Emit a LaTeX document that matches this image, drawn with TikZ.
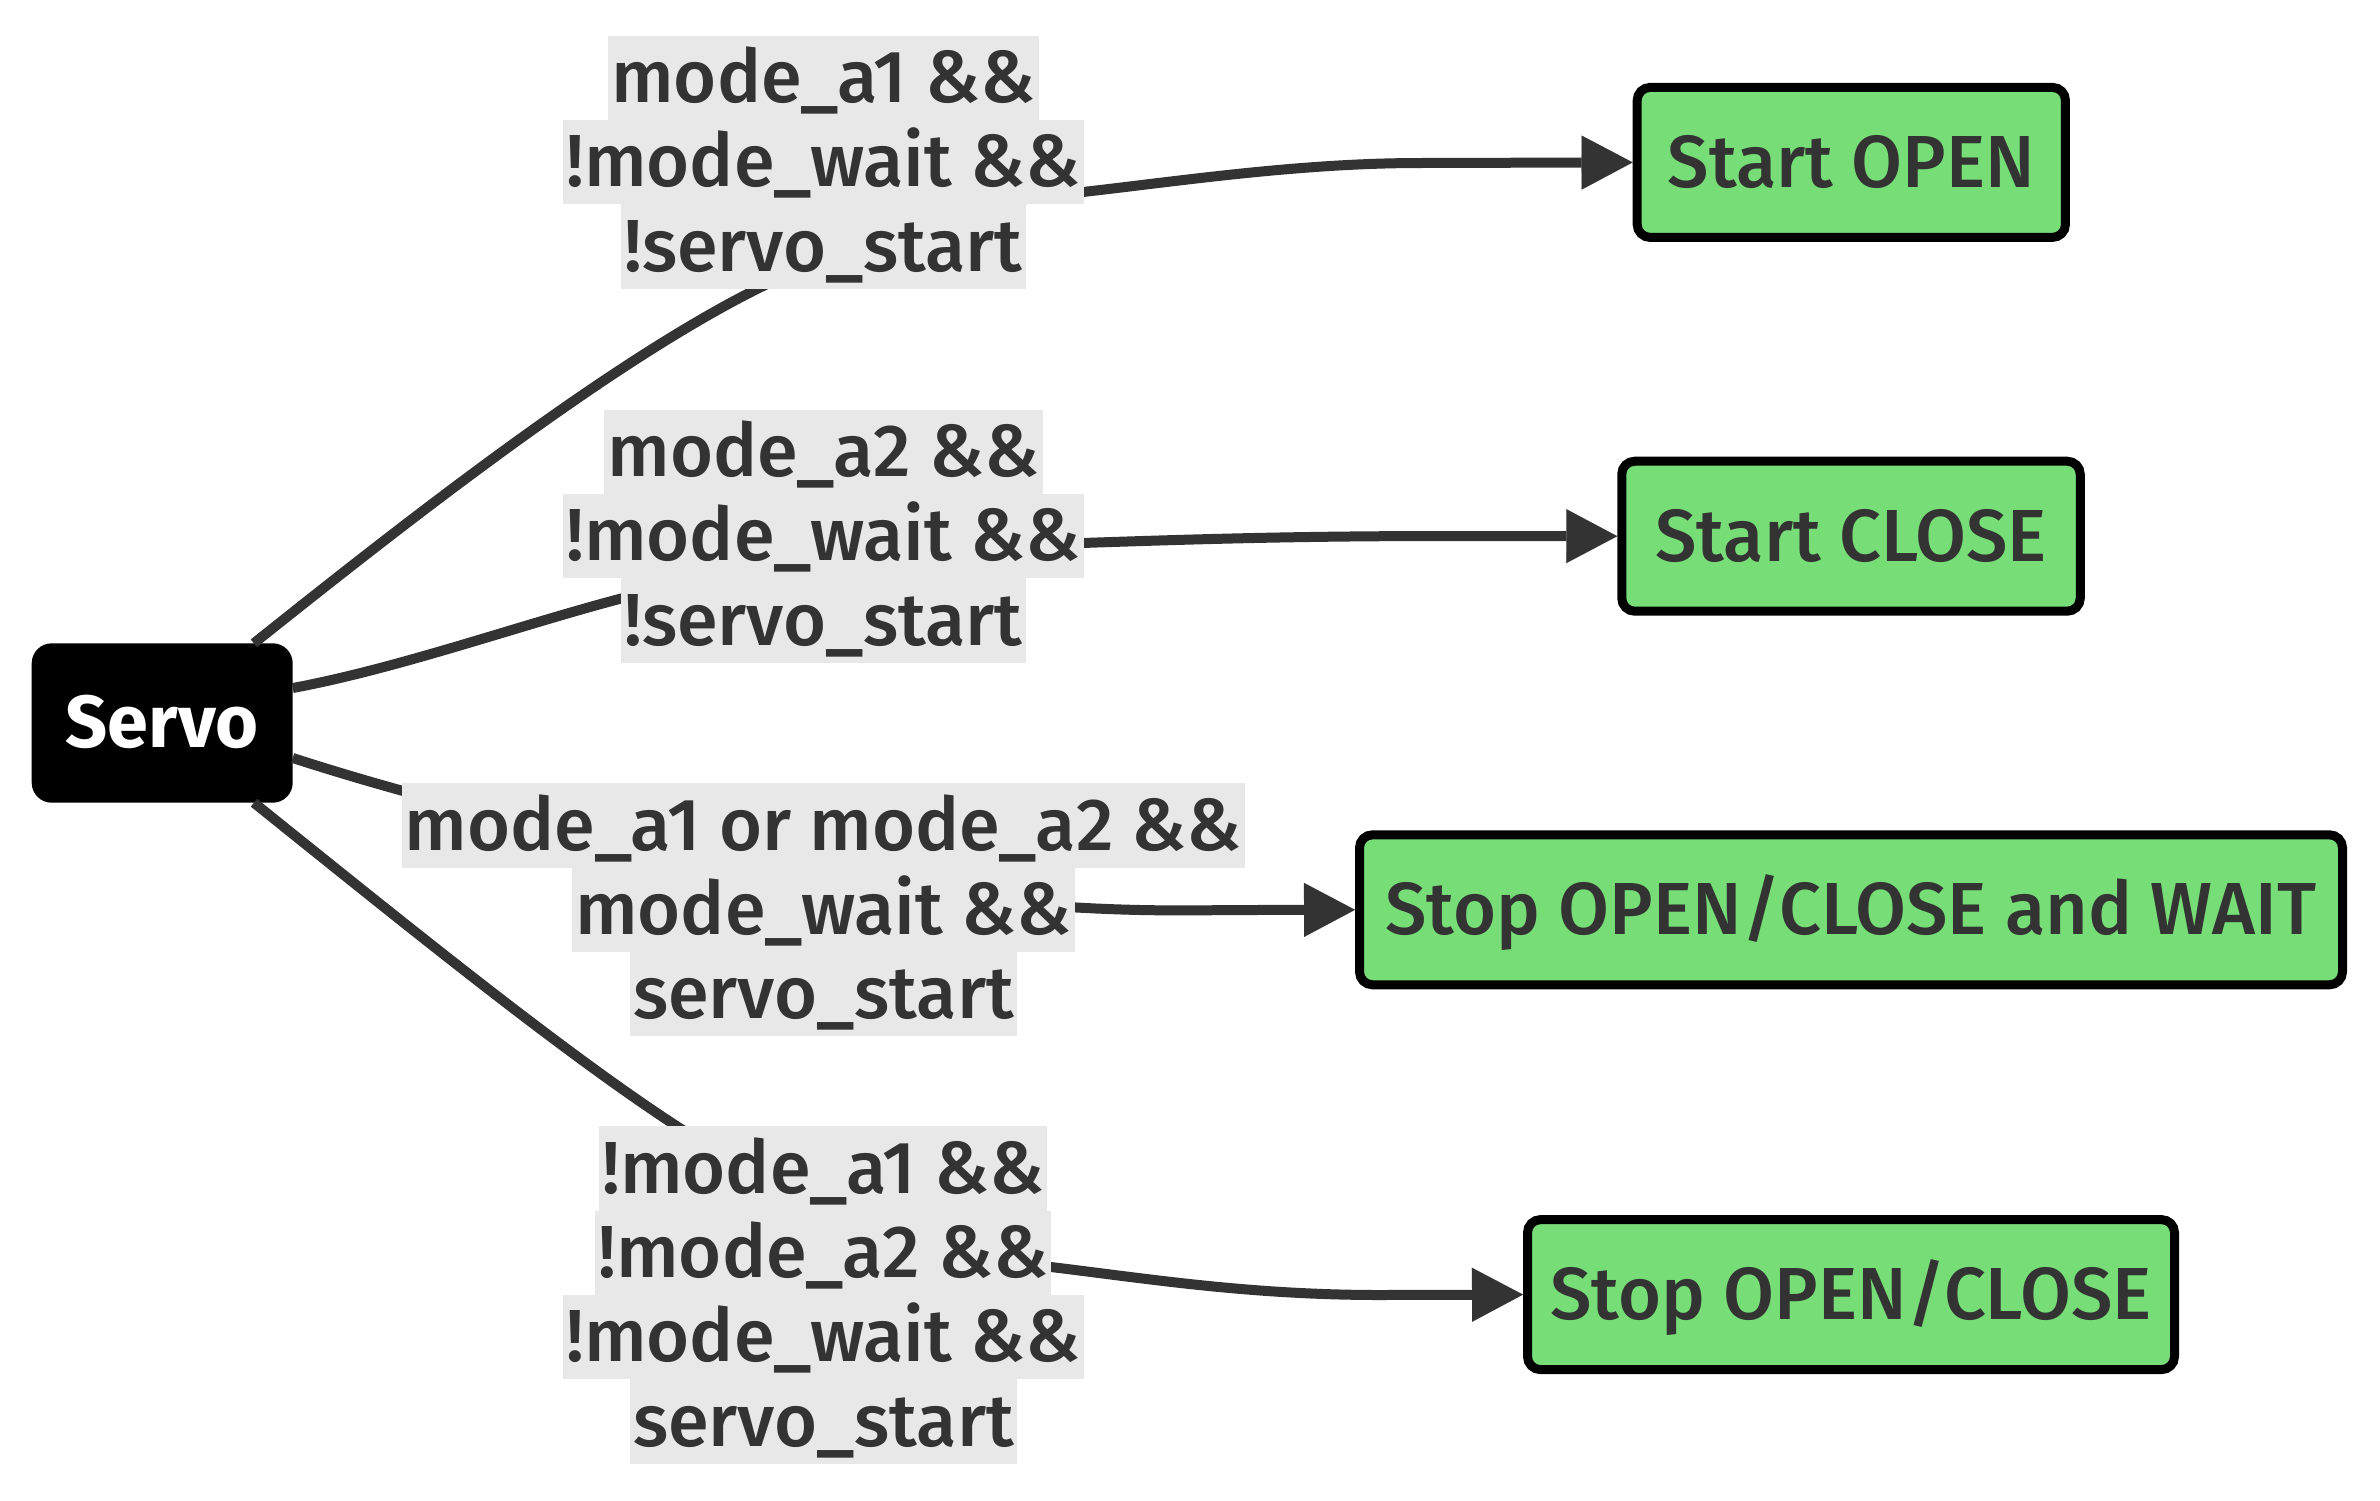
\documentclass[tikz,border=0pt]{standalone}
\usepackage{fontspec}
\setmainfont{Fira Sans Medium}[BoldFont={Fira Sans Bold}]
\usetikzlibrary{arrows.meta}
\definecolor{nodegreen}{HTML}{77DD77}
\definecolor{inkgray}{HTML}{333333}
\definecolor{lblgray}{HTML}{E8E8E8}
\newlength\calibw
\AtBeginDocument{%
  \settowidth\calibw{\normalfont\fontsize{20pt}{24pt}\selectfont mode\_a1 or mode\_a2 \&\&}%
  \pgfmathsetmacro\tmpfs{837/\calibw*20}%
  \xdef\labelfs{\tmpfs}}
\newcommand\diagfont{\fontsize{\labelfs pt}{\labelfs pt}\selectfont}
\tikzset{
  servobox/.style={fill=black, draw=black, line width=2pt, rounded corners=19pt,
    minimum width=259pt, minimum height=157.4pt, text=white, font=\diagfont\bfseries,
    inner sep=0pt, text height=60pt, text depth=10.2pt},
  greenbox/.style={fill=nodegreen, draw=black, line width=9pt, rounded corners=13pt,
    minimum height=150pt, text=inkgray, font=\diagfont,
    inner sep=0pt, text height=60pt, text depth=10.2pt},
  lbl/.style={fill=lblgray, text=inkgray, font=\diagfont, inner xsep=3pt, inner ysep=0pt,
    text height=66.7pt, text depth=17.6pt},
  edgeline/.style={draw=inkgray, line width=10pt,
    -{Triangle[length=51pt,width=54pt,line width=0.1pt]}}
}
\begin{document}
\begin{tikzpicture}[x=1pt,y=-1pt]
\useasboundingbox (0,0) rectangle (2380,1500);
\fill[white] (0,0) rectangle (2380,1500);

% nodes
\node[servobox] (servo) at (162.2,723) {Servo};
\node[greenbox, minimum width=428.3pt] (open) at (1851.3,162.4) {Start OPEN};
\node[greenbox, minimum width=458.5pt] (close) at (1851,536.2) {Start CLOSE};
\node[greenbox, minimum width=983pt] (wait) at (1851,909.8) {Stop OPEN/CLOSE and WAIT};
\node[greenbox, minimum width=647pt] (stop) at (1851,1294.6) {Stop OPEN/CLOSE};

% edges
\draw[edgeline] (servo.41.7) .. controls (402,525) and (607,364) .. (757,289)
  .. controls (900,218) and (980,203) .. (1083,192)
  .. controls (1180,181) and (1300,163) .. (1420,163) -- (open.west);
\draw[edgeline] (servo.15) .. controls (400,668) and (520,625) .. (623,598)
  .. controls (720,572) and (950,548) .. (1082,543)
  .. controls (1200,539) and (1300,536) .. (1450,536) -- (close.west);
\draw[edgeline] (servo.-15) .. controls (500,825) and (800,890) .. (1068,907)
  .. controls (1150,912) and (1200,910) .. (1250,910) -- (wait.west);
\draw[edgeline] (servo.-41.4) .. controls (400,920) and (560,1050) .. (675,1125)
  .. controls (830,1226) and (950,1255) .. (1051,1267)
  .. controls (1150,1279) and (1250,1295) .. (1380,1295) -- (stop.west);

% edge labels
\node[lbl] (l1a) at (823.4,77.9) {mode\_a1 \&\&};
\node[lbl] (l1b) at (823.4,162.2) {!mode\_wait \&\&};
\node[lbl] (l1c) at (823.4,246.5) {!servo\_start};

\node[lbl] (l2a) at (823.4,451.9) {mode\_a2 \&\&};
\node[lbl] (l2b) at (823.4,536.2) {!mode\_wait \&\&};
\node[lbl] (l2c) at (823.4,620.5) {!servo\_start};

\node[lbl] (l3a) at (823.4,825.5) {mode\_a1 or mode\_a2 \&\&};
\node[lbl] (l3b) at (823.4,909.8) {mode\_wait \&\&};
\node[lbl] (l3c) at (823.4,994.1) {servo\_start};

\node[lbl] (l4a) at (823.4,1168.55) {!mode\_a1 \&\&};
\node[lbl] (l4b) at (823.4,1252.85) {!mode\_a2 \&\&};
\node[lbl] (l4c) at (823.4,1337.15) {!mode\_wait \&\&};
\node[lbl] (l4d) at (823.4,1421.45) {servo\_start};
\end{tikzpicture}
\end{document}
